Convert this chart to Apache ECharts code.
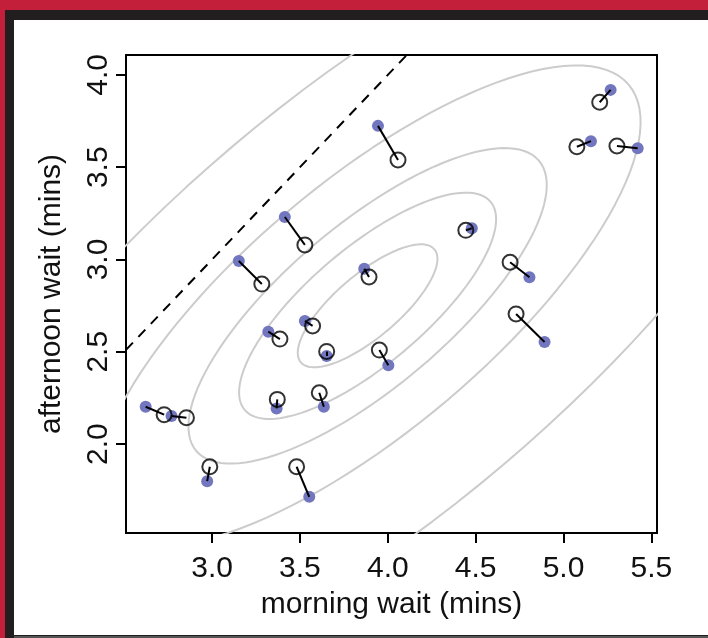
<!DOCTYPE html>
<html lang="en">
<head>
<meta charset="UTF-8">
<title>coffee waits</title>
<script src="https://cdn.jsdelivr.net/npm/echarts@6/dist/echarts.min.js"></script>
<style>
    body { margin: 0; }
    #frame { position: absolute; left: 0; top: 0; width: 708px; height: 638px; background: #c41f3a; overflow: hidden; }
    #black { position: absolute; left: 5px; top: 10px; right: 0; bottom: 0; background: #221e1f; }
    #white { position: absolute; left: 14px; top: 20px; right: 0; bottom: 3px; background: #fff; }
    #bottomline { position: absolute; left: 14px; right: 0; bottom: 0; height: 2px; background: #555; }
    #main { position: absolute; left: 0; top: 0; width: 708px; height: 638px; }
</style>
</head>
<body>
<div id="frame">
    <div id="black"></div>
    <div id="white"></div>
    <div id="bottomline"></div>
</div>
<div id="main"></div>
<script>
    // raw (unpooled) estimates per cafe
    const morningRaw   = [3.944, 3.414, 3.152, 5.268, 5.156, 5.422, 4.478, 4.806, 4.892, 3.866,
                          3.528, 3.320, 3.652, 4.003, 3.367, 3.636, 2.622, 2.769, 2.972, 3.553]
    const afternoonRaw = [3.724, 3.230, 2.992, 3.919, 3.641, 3.603, 3.169, 2.904, 2.553, 2.950,
                          2.667, 2.609, 2.477, 2.427, 2.193, 2.202, 2.202, 2.152, 1.799, 1.714]
    // partially pooled estimates
    const morningPool   = [4.058, 3.528, 3.283, 5.206, 5.076, 5.304, 4.444, 4.696, 4.730, 3.893,
                           3.572, 3.386, 3.652, 3.952, 3.371, 3.610, 2.727, 2.854, 2.987, 3.481]
    const afternoonPool = [3.539, 3.079, 2.867, 3.852, 3.611, 3.615, 3.158, 2.985, 2.705, 2.905,
                           2.640, 2.569, 2.502, 2.509, 2.242, 2.278, 2.159, 2.143, 1.877, 1.877]

    // population distribution (contours)
    const mu = [3.885, 2.749]
    const sd = [0.866, 0.726]
    const rho = 0.765
    const levels = [0.1, 0.3, 0.5, 0.8, 0.99]

    const xTicks = [3.0, 3.5, 4.0, 4.5, 5.0, 5.5]
    const yTicks = [2.0, 2.5, 3.0, 3.5, 4.0]
    const xRange = [2.51, 5.532]
    const yRange = [1.518, 4.108]

    function ellipse (level) {
        // same parametrisation as R's ellipse package
        const t = Math.sqrt(-2 * Math.log(1 - level))
        const d = Math.acos(rho)
        const pts = []
        for (let i = 0; i <= 120; i++) {
            const a = 2 * Math.PI * i / 120
            pts.push([mu[0] + t * sd[0] * Math.cos(a + d / 2), mu[1] + t * sd[1] * Math.cos(a - d / 2)])
        }
        return pts
    }

    const font = 'Liberation Sans, Arial, sans-serif'
    const chart = echarts.init(document.getElementById('main'))

    const series = levels.map(l => ({
        type: 'line',
        data: ellipse(l),
        showSymbol: false,
        clip: true,
        silent: true,
        lineStyle: { color: '#cccccc', width: 2 },
        z: 1
    }))

    series.push({
        type: 'line',
        data: [[xRange[0], xRange[0]], [yRange[1], yRange[1]]],
        showSymbol: false,
        clip: true,
        lineStyle: { color: '#000', width: 2, type: [10, 8] },
        z: 2
    })

    series.push({
        type: 'scatter',
        data: morningRaw.map((x, i) => [x, afternoonRaw[i]]),
        symbolSize: 12,
        itemStyle: { color: '#7176bf', opacity: 1 },
        z: 3
    })

    series.push({
        type: 'scatter',
        data: morningPool.map((x, i) => [x, afternoonPool[i]]),
        symbolSize: 15,
        itemStyle: { color: 'none', borderColor: '#000', borderWidth: 2 },
        z: 4
    })

    series.push({
        type: 'lines',
        coordinateSystem: 'cartesian2d',
        data: morningRaw.map((x, i) => ({ coords: [[x, afternoonRaw[i]], [morningPool[i], afternoonPool[i]]] })),
        lineStyle: { color: '#000', width: 2, opacity: 1 },
        z: 5
    })

    chart.setOption({
        animation: false,
        grid: {
            left: 126, top: 55, right: 51, bottom: 105,
            show: true, borderColor: '#000', borderWidth: 2
        },
        xAxis: {
            type: 'value',
            min: xRange[0], max: xRange[1],
            name: 'morning wait (mins)',
            nameLocation: 'middle',
            nameGap: 57,
            nameTextStyle: { fontFamily: font, fontSize: 30, color: '#111' },
            axisLine: { show: false },
            splitLine: { show: false },
            axisTick: { show: true, length: 10, lineStyle: { color: '#000', width: 2 }, customValues: xTicks },
            axisLabel: {
                customValues: xTicks, margin: 21,
                fontFamily: font, fontSize: 30, color: '#111',
                formatter: v => v.toFixed(1)
            }
        },
        yAxis: {
            type: 'value',
            min: yRange[0], max: yRange[1],
            name: 'afternoon wait (mins)',
            nameLocation: 'middle',
            nameGap: 59,
            nameTextStyle: { fontFamily: font, fontSize: 30, color: '#111' },
            axisLine: { show: false },
            splitLine: { show: false },
            axisTick: { show: true, length: 10, lineStyle: { color: '#000', width: 2 }, customValues: yTicks },
            axisLabel: {
                customValues: yTicks, margin: 12, rotate: 90,
                fontFamily: font, fontSize: 30, color: '#111',
                formatter: v => v.toFixed(1)
            }
        },
        series: series
    })
</script>
</body>
</html>
